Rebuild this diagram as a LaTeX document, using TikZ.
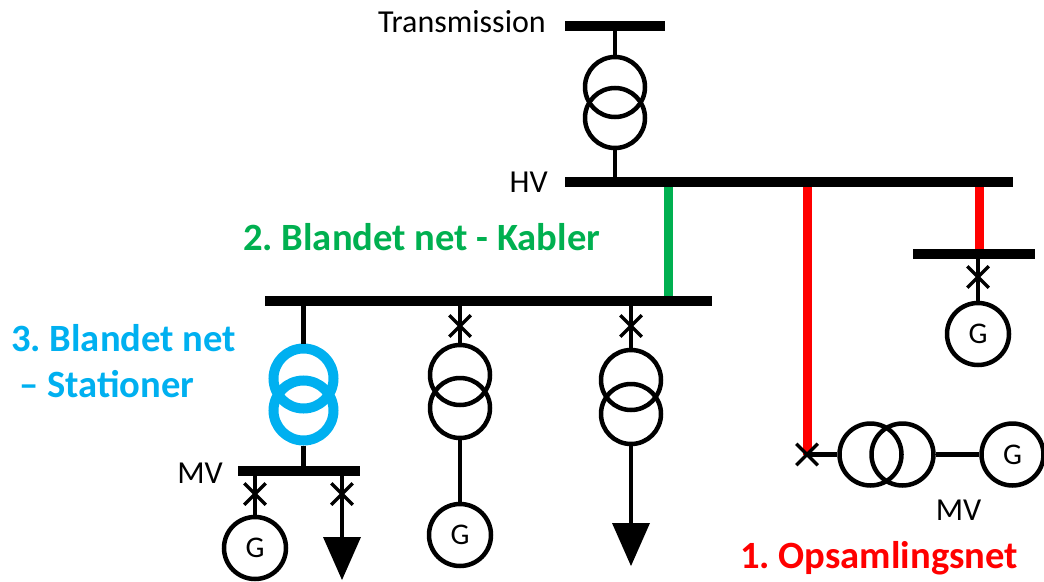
\documentclass[tikz,border=0pt]{standalone}
\usepackage{fontspec}
\setmainfont{Carlito}
\frenchspacing
\usetikzlibrary{shapes.misc, backgrounds}
\definecolor{kabelgreen}{HTML}{00B050}
\definecolor{stationblue}{HTML}{00B0F0}
\tikzset{
    bus/.style={fill=black, inner sep=0pt, minimum height=10pt},
    winding/.style={draw, circle, line width=4.5pt, inner sep=0pt, minimum size=60pt},
    gen/.style={draw, circle, line width=4.5pt, inner sep=0pt, minimum size=62pt, font=\fontsize{30}{33}\selectfont},
    breaker/.style={draw, cross out, line width=3.5pt, inner sep=0pt, minimum size=18pt},
    feeder/.style={line width=4.5pt},
    label/.style={font=\fontsize{32}{36}\selectfont, inner sep=0pt},
    title/.style={font=\fontsize{38.6}{44}\selectfont\bfseries, inner sep=0pt},
}
\begin{document}
\begin{tikzpicture}[x=1pt, y=-1pt]
    \useasboundingbox (0, 0) rectangle (1044, 581);
    % busbars
    \node[bus, minimum width=100pt] (trans) at (615, 25.5) {};
    \node[bus, minimum width=448pt] (hv) at (789, 181.5) {};
    \node[bus, minimum width=447pt] (blandet) at (488.5, 300.5) {};
    \node[bus, minimum width=122pt] (opsaml) at (974, 254) {};
    \node[bus, minimum width=122pt] (mv) at (299, 471) {};
    % transformers
    \node[winding] (t1a) at (615, 87) {};
    \node[winding] (t1b) at (615, 118) {};
    \node[winding, stationblue, line width=10pt, minimum size=60pt] (t2a) at (303.5, 378.5) {};
    \node[winding, stationblue, line width=10pt, minimum size=60pt] (t2b) at (303.5, 410.5) {};
    \node[winding] (t3a) at (460, 375) {};
    \node[winding] (t3b) at (460, 408) {};
    \node[winding] (t4a) at (631, 380) {};
    \node[winding] (t4b) at (631, 414) {};
    \node[winding, minimum size=62pt] (t5a) at (870.5, 454.5) {};
    \node[winding, minimum size=62pt] (t5b) at (902.5, 454.5) {};
    % generators
    \node[gen] (g1) at (255, 548) {G};
    \node[gen] (g2) at (460, 535) {G};
    \node[gen] (g3) at (978, 334) {G};
    \node[gen] (g4) at (1012.5, 454.5) {G};
    % breakers
    \node[breaker] (b1) at (255, 494) {};
    \node[breaker] (b2) at (342, 494) {};
    \node[breaker] (b3) at (460, 326) {};
    \node[breaker] (b4) at (631, 326) {};
    \node[breaker] (b5) at (978, 277) {};
    \node[breaker] (b6) at (807, 454.5) {};
    % loads
    \coordinate (l1) at (342, 537);
    \coordinate (l2) at (631, 523);
    \foreach \load in {l1, l2} {
        \fill (\load) ++(-19, 0) -- ++(38, 0) -- ++(-19, 43) -- cycle;
    }
    % connections
    \draw[feeder] (trans) -- (t1a.north);
    \draw[feeder] (t1b.south) -- (t1b |- hv);
    \draw[feeder] (blandet.south -| t2a) -- (t2a.north);
    \draw[feeder] (t2b.south) -- (t2b |- mv);
    \draw[feeder] (mv.south -| b1) -- (b1.center) -- (g1.north);
    \draw[feeder] (mv.south -| b2) -- (b2.center) -- (l1);
    \draw[feeder] (blandet.south -| b3) -- (b3.center) -- (t3a.north);
    \draw[feeder] (t3b.south) -- (g2.north);
    \draw[feeder] (blandet.south -| b4) -- (b4.center) -- (t4a.north);
    \draw[feeder] (t4b.south) -- (l2);
    \draw[feeder] (opsaml.south -| b5) -- (b5.center) -- (g3.north);
    \draw[feeder] (b6.center) -- (t5a.west);
    \draw[feeder] (t5b.east) -- (g4.west);
    \begin{scope}[on background layer]
        \draw[line width=9pt, kabelgreen] (hv -| 668, 0) -- (blandet -| 668, 0);
        \draw[line width=9pt, red] (hv -| b6) -- (b6.center);
        \draw[line width=9pt, red] (hv -| 979, 0) -- (opsaml -| 979, 0);
    \end{scope}
    % labels
    \node[label, anchor=east] (ltrans) at (546, 22) {Transmission};
    \node[label, anchor=east] (lhv) at (548, 182) {HV};
    \node[label, anchor=east] (lmv) at (223, 473) {MV};
    \node[label] (lmvb) at (958.5, 510) {MV};
    \node[title, text=kabelgreen, anchor=west] (lkabel) at (243, 237) {2. Blandet net - Kabler};
    \node[title, text=stationblue, anchor=west] (lstat) at (11, 338) {3. Blandet net};
    \node[title, text=stationblue, anchor=west] (lstatb) at (19, 384) {– Stationer};
    \node[title, text=red, anchor=west] (lopsaml) at (740, 558) {1. Opsamlingsnet};
\end{tikzpicture}
\end{document}
